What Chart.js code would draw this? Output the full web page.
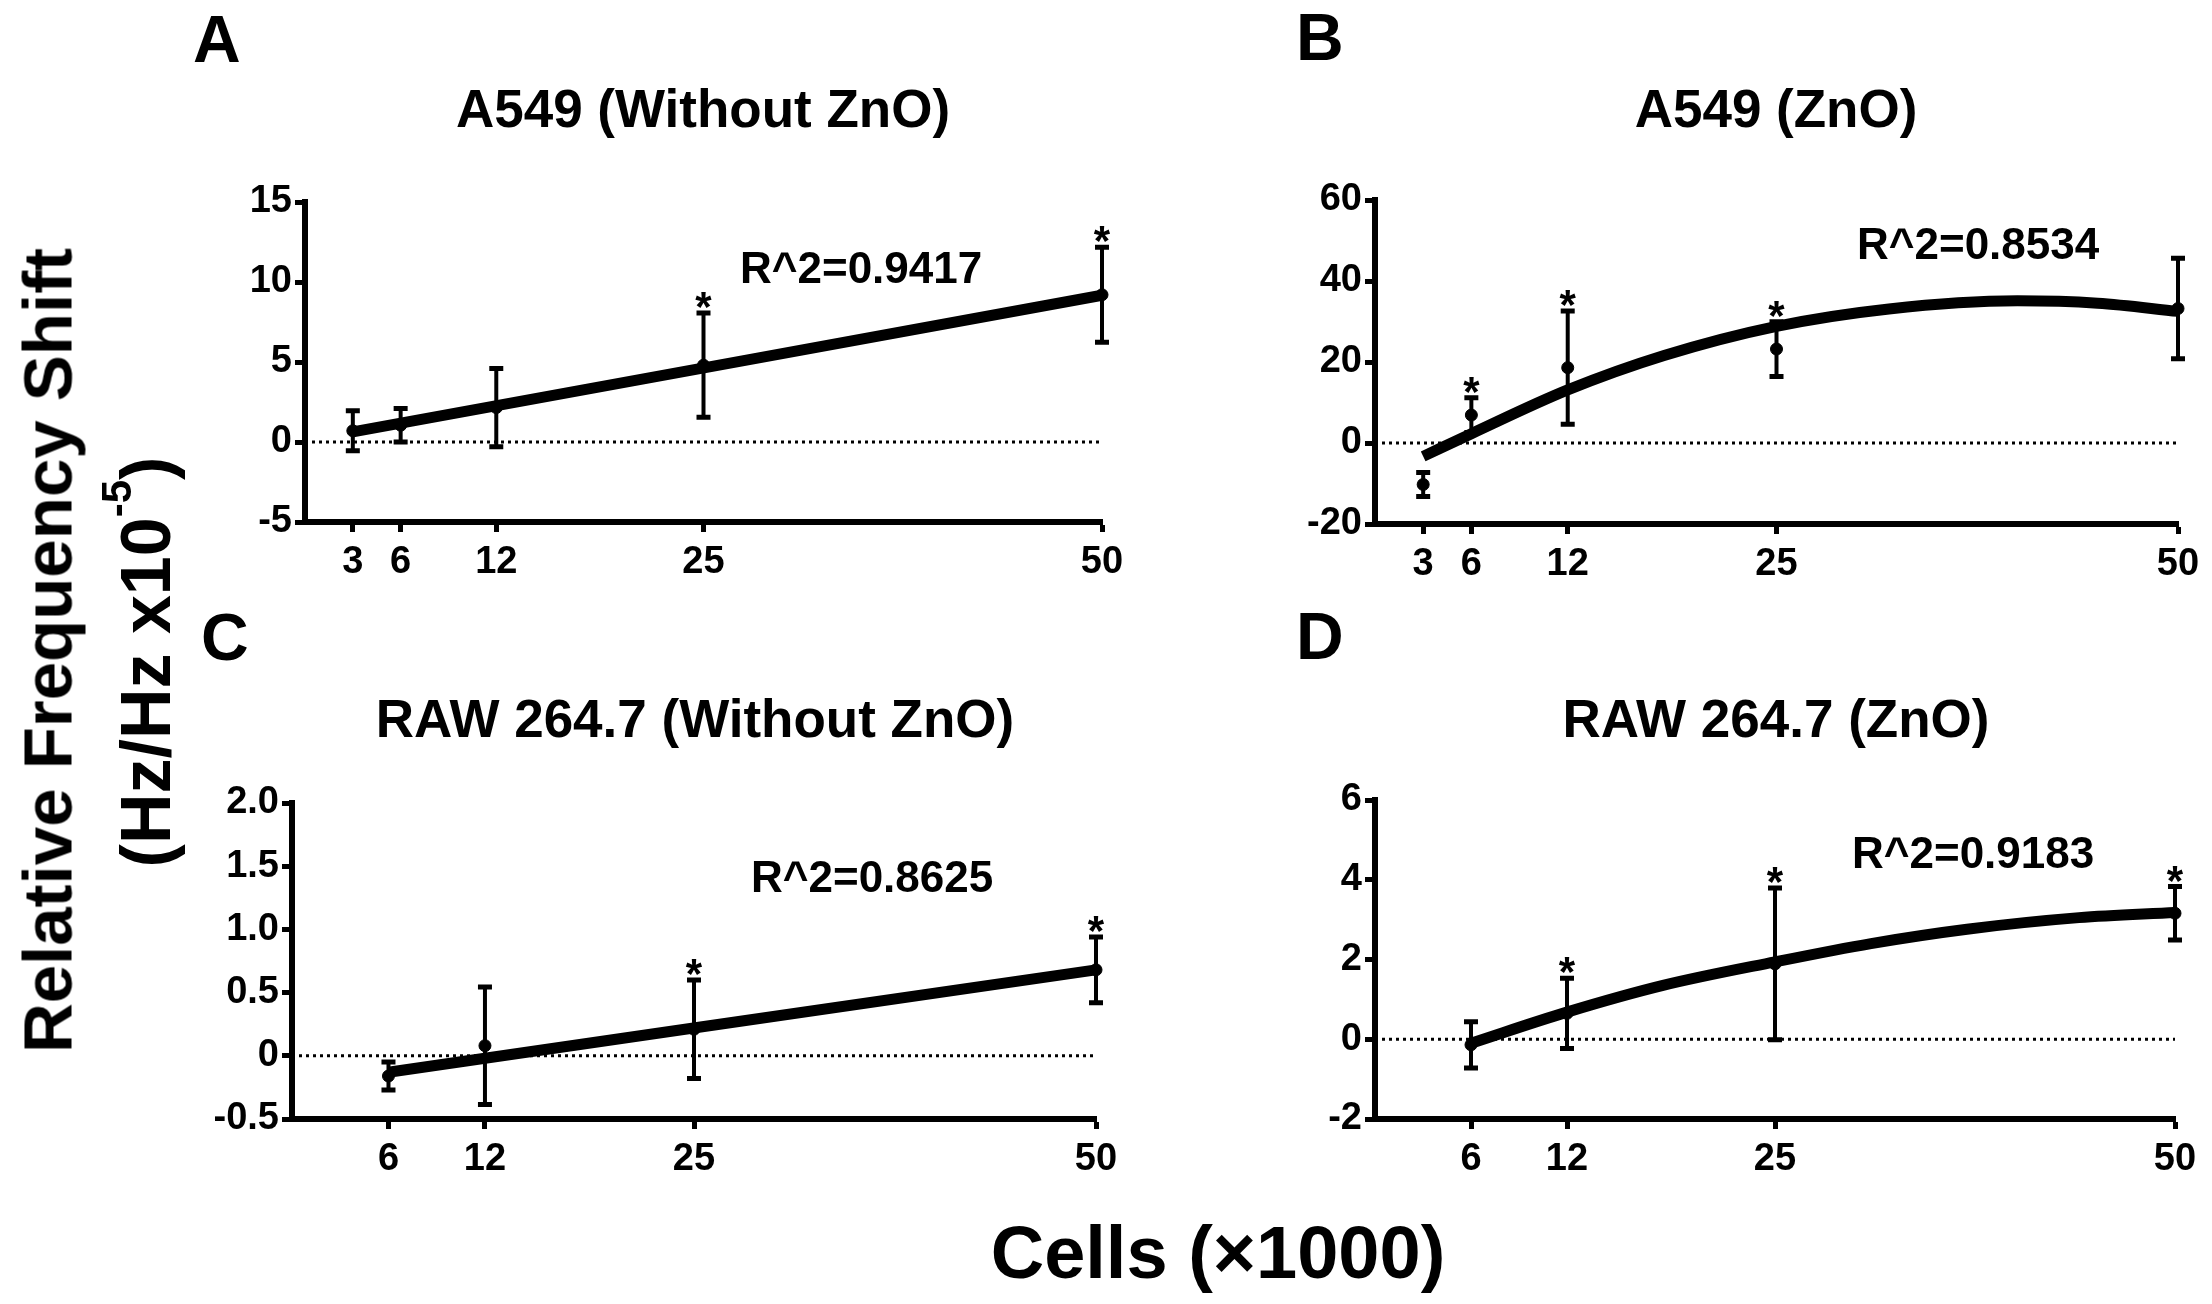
<!DOCTYPE html>
<html><head><meta charset="utf-8">
<script src="https://cdn.jsdelivr.net/npm/chart.js@4.4.1/dist/chart.umd.min.js"></script>
<style>
html,body{margin:0;padding:0;background:#fff;}
#wrap{position:relative;width:2212px;height:1304px;overflow:hidden;background:#fff;font-family:"Liberation Sans",Arial,Helvetica,sans-serif;font-weight:bold;color:#000;}
#wrap canvas{position:absolute;left:0;top:0;}
.t{position:absolute;white-space:nowrap;line-height:1;font-weight:bold;}
</style></head><body><div id="wrap"></div>
<script>
// ---------- data ----------
const xTicksAB = [3, 6, 12, 25, 50];
const xTicksCD = [6, 12, 25, 50];

// Panel A: A549 (Without ZnO)
const cellsA = [3, 6, 12, 25, 50];
const meanA  = [0.7, 1.05, 2.15, 4.8, 9.2];
const errA   = [1.25, 1.05, 2.45, 3.26, 2.97];
const starA  = [false, false, false, true, true];
const fitXA  = [3, 50];
const fitYA  = [0.63, 9.17];
const yTicksA = [-5, 0, 5, 10, 15];
const yLabelsA = ['-5', '0', '5', '10', '15'];

// Panel B: A549 (ZnO)
const cellsB = [3, 6, 12, 25, 50];
const meanB  = [-10.25, 6.9, 18.6, 23.2, 33.2];
const errB   = [2.95, 4.3, 14.0, 6.75, 12.4];
const starB  = [false, true, true, true, false];
const fitXB  = [3, 6, 12, 18, 25, 32, 40, 45, 50];
const fitYB  = [-3.3, 2.3, 13.1, 21.6, 28.8, 33.1, 35.1, 34.5, 32.5];
const yTicksB = [-20, 0, 20, 40, 60];
const yLabelsB = ['-20', '0', '20', '40', '60'];

// Panel C: RAW 264.7 (Without ZnO)
const cellsC = [6, 12, 25, 50];
const meanC  = [-0.16, 0.08, 0.21, 0.68];
const errC   = [0.11, 0.465, 0.39, 0.26];
const starC  = [false, false, true, true];
const fitXC  = [6, 50];
const fitYC  = [-0.13, 0.68];
const yTicksC = [-0.5, 0, 0.5, 1.0, 1.5, 2.0];
const yLabelsC = ['-0.5', '0', '0.5', '1.0', '1.5', '2.0'];

// Panel D: RAW 264.7 (ZnO)
const cellsD = [6, 12, 25, 50];
const meanD  = [-0.14, 0.65, 1.89, 3.16];
const errD   = [0.58, 0.88, 1.9, 0.67];
const starD  = [false, true, true, true];
const fitXD  = [6, 12, 18, 25, 31, 37, 44, 50];
const fitYD  = [-0.1, 0.68, 1.35, 1.94, 2.4, 2.76, 3.05, 3.18];
const yTicksD = [-2, 0, 2, 4, 6];
const yLabelsD = ['-2', '0', '2', '4', '6'];

const titles = ['A549 (Without ZnO)', 'A549 (ZnO)', 'RAW 264.7 (Without ZnO)', 'RAW 264.7 (ZnO)'];
const letters = ['A', 'B', 'C', 'D'];
const r2Labels = ['R^2=0.9417', 'R^2=0.8534', 'R^2=0.8625', 'R^2=0.9183'];
const xTitle = 'Cells (\u00d71000)';
const yTitle1 = 'Relative Frequency Shift';

// ---------- layout ----------
const FAM = '"Liberation Sans", Arial, Helvetica, sans-serif';
const W = 2212, H = 1304;
const wrap = document.getElementById('wrap');

function addText(html, x, baseline, fs, align) {
  const d = document.createElement('div');
  d.className = 't';
  d.innerHTML = html;
  d.style.fontSize = fs + 'px';
  d.style.top = (baseline - 0.8465 * fs) + 'px';
  d.style.left = x + 'px';
  if (align === 'center') d.style.transform = 'translateX(-50%)';
  wrap.appendChild(d);
  return d;
}
function addVText(html, cy, baselineX, fs) {
  const d = document.createElement('div');
  d.className = 't';
  d.innerHTML = html;
  d.style.fontSize = fs + 'px';
  d.style.width = '1000px';
  d.style.textAlign = 'center';
  const cx = baselineX - 0.3465 * fs;
  d.style.left = (cx - 500) + 'px';
  d.style.top = (cy - fs / 2) + 'px';
  d.style.height = fs + 'px';
  d.style.transform = 'rotate(-90deg)';
  d.style.transformOrigin = '50% 50%';
  wrap.appendChild(d);
}

const errPlugin = {
  id: 'errbars',
  afterDatasetsDraw(chart, args, o) {
    const ctx = chart.ctx, xs = chart.scales.x, ys = chart.scales.y;
    ctx.save();
    ctx.strokeStyle = '#000';
    ctx.fillStyle = '#000';
    ctx.font = 'bold 42px ' + FAM;
    ctx.textAlign = 'center';
    ctx.textBaseline = 'alphabetic';
    o.xs.forEach((xv, i) => {
      const px = xs.getPixelForValue(xv);
      const top = ys.getPixelForValue(o.means[i] + o.errs[i]);
      const bot = ys.getPixelForValue(o.means[i] - o.errs[i]);
      ctx.lineWidth = 4;
      ctx.beginPath(); ctx.moveTo(px, top); ctx.lineTo(px, bot); ctx.stroke();
      ctx.lineWidth = 5;
      ctx.beginPath();
      ctx.moveTo(px - 7, top); ctx.lineTo(px + 7, top);
      ctx.moveTo(px - 7, bot); ctx.lineTo(px + 7, bot);
      ctx.stroke();
      if (o.stars[i]) ctx.fillText('*', px, top + 8);
    });
    ctx.restore();
  }
};

const YW = 120, XH = 80;
function panel(p) {
  const cv = document.createElement('canvas');
  cv.width = W; cv.height = H;
  cv.style.width = W + 'px'; cv.style.height = H + 'px';
  wrap.appendChild(cv);
  const tickFont = { family: FAM, size: 38, weight: 'bold' };
  new Chart(cv, {
    type: 'line',
    data: {
      datasets: [
        { data: [{ x: 0, y: 0 }, { x: 50, y: 0 }], borderColor: '#000', borderWidth: 3, borderDash: [3, 4], pointRadius: 0, clip: false },
        { data: p.fitX.map((v, i) => ({ x: v, y: p.fitY[i] })), borderColor: '#000', borderWidth: 11, pointRadius: 0,
          cubicInterpolationMode: 'monotone', tension: 0.4, borderCapStyle: 'butt', clip: false },
        { data: p.xs.map((v, i) => ({ x: v, y: p.means[i] })), showLine: false, pointRadius: 6, pointBackgroundColor: '#000', pointBorderColor: '#000', pointBorderWidth: 1, clip: false }
      ]
    },
    options: {
      responsive: false, animation: false, devicePixelRatio: 1,
      events: [],
      layout: { padding: { left: p.L - YW, right: W - p.R, top: p.T, bottom: H - p.B - XH } },
      plugins: { legend: { display: false }, tooltip: { enabled: false },
        errbars: { xs: p.xs, means: p.means, errs: p.errs, stars: p.stars } },
      scales: {
        x: {
          type: 'linear', min: 0, max: 50,
          afterBuildTicks: s => { s.ticks = p.xt.map(v => ({ value: v })); },
          afterFit: s => { s.height = XH; },
          grid: { display: true, drawOnChartArea: false, drawTicks: true, tickLength: 10, tickWidth: 5, tickColor: '#000' },
          border: { display: true, color: '#000', width: 6 },
          ticks: { color: '#000', font: tickFont, padding: 8, maxRotation: 0, autoSkip: false, callback: v => String(v) }
        },
        y: {
          type: 'linear', min: p.yt[0], max: p.yt[p.yt.length - 1],
          afterBuildTicks: s => { s.ticks = p.yt.map(v => ({ value: v })); },
          afterFit: s => { s.width = YW; },
          grid: { display: true, drawOnChartArea: false, drawTicks: true, tickLength: 10, tickWidth: 5, tickColor: '#000' },
          border: { display: true, color: '#000', width: 6 },
          ticks: { color: '#000', font: tickFont, padding: 3, autoSkip: false,
            callback: v => { const k = p.yt.indexOf(v); return k >= 0 ? p.yl[k] : ''; } }
        }
      }
    },
    plugins: [errPlugin]
  });
}

panel({ L: 305, R: 1102, T: 202, B: 522, xs: cellsA, means: meanA, errs: errA, stars: starA, fitX: fitXA, fitY: fitYA, xt: xTicksAB, yt: yTicksA, yl: yLabelsA });
panel({ L: 1375, R: 2178, T: 200, B: 524, xs: cellsB, means: meanB, errs: errB, stars: starB, fitX: fitXB, fitY: fitYB, xt: xTicksAB, yt: yTicksB, yl: yLabelsB });
panel({ L: 292, R: 1096, T: 803, B: 1119, xs: cellsC, means: meanC, errs: errC, stars: starC, fitX: fitXC, fitY: fitYC, xt: xTicksCD, yt: yTicksC, yl: yLabelsC });
panel({ L: 1375, R: 2175, T: 800, B: 1119, xs: cellsD, means: meanD, errs: errD, stars: starD, fitX: fitXD, fitY: fitYD, xt: xTicksCD, yt: yTicksD, yl: yLabelsD });

// panel letters
addText(letters[0], 193, 62, 66);
addText(letters[1], 1296, 60, 66);
addText(letters[2], 201, 660, 66);
addText(letters[3], 1296, 659, 66);
// titles
addText(titles[0], 703, 127, 53, 'center');
addText(titles[1], 1776, 127, 53, 'center');
addText(titles[2], 695, 737, 53, 'center');
addText(titles[3], 1776, 737, 53, 'center');
// R^2 labels
addText(r2Labels[0], 740, 283, 44);
addText(r2Labels[1], 1857, 259, 44);
addText(r2Labels[2], 751, 892, 44);
addText(r2Labels[3], 1852, 868, 44);
// axis titles
addText(xTitle, 1218, 1279, 74, 'center');
addVText(yTitle1, 650, 72, 69);
addVText('(Hz/Hz x10<span style="font-size:0.6em;position:relative;top:-0.93em">-5</span>)', 662, 170, 70);
</script>
</body></html>
